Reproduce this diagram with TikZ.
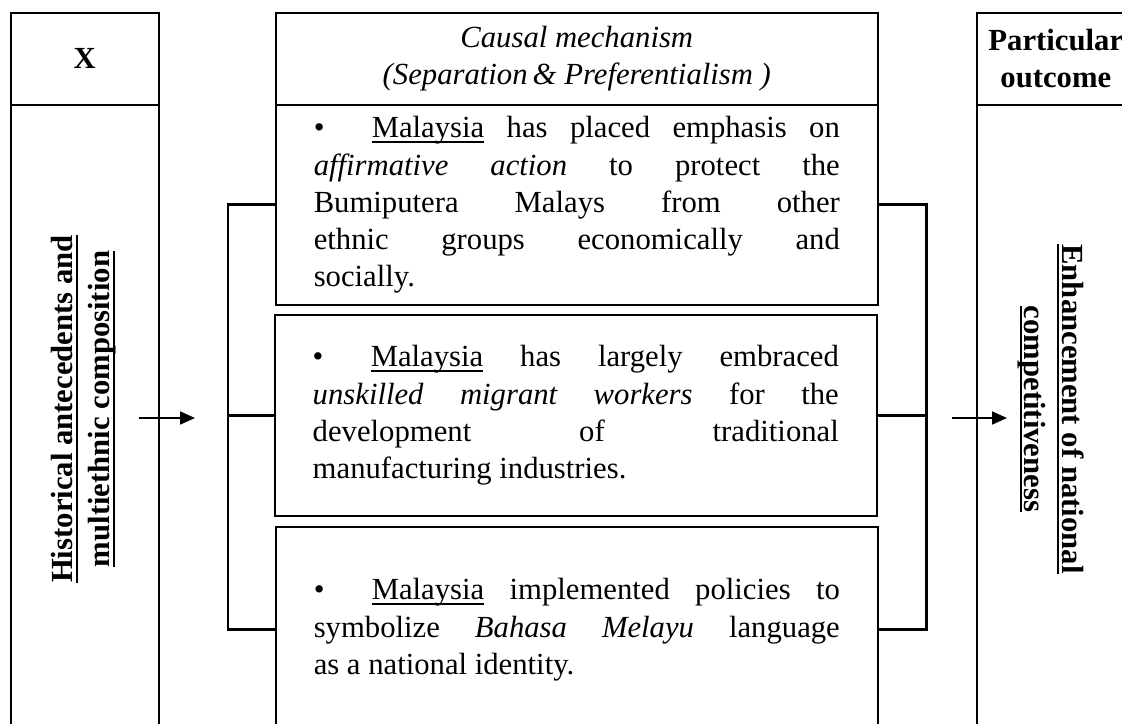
\documentclass[tikz,border=0pt]{standalone}
\usepackage{fontspec}
\setmainfont{Liberation Serif}
\usetikzlibrary{positioning, arrows.meta}

% underline at a fixed depth, like a word processor
\newcommand{\undl}[1]{\setbox0\hbox{#1}\rlap{\rule[-1.9pt]{\wd0}{0.6pt}}\box0\relax}
% one bullet item with a hanging indent
\newcommand{\bulletitem}[1]{\hangindent=22.7pt\hangafter=1\noindent\makebox[22.7pt][l]{\textbullet}#1}

\tikzset{
  cell/.style={draw, line width=0.6pt, inner sep=0pt, anchor=north west},
  itembox/.style={cell, text width=205.7pt, inner xsep=14.85pt, align=justify,
    font=\fontsize{12pt}{14.5pt}\selectfont},
  title/.style={inner sep=0pt, align=center, font=\fontsize{12pt}{14.5pt}\selectfont\bfseries},
  bracket/.style={line width=1pt},
  flow/.style={line width=0.8pt, -{Triangle[length=5.8pt, width=5pt]}}
}

\begin{document}
\begin{tikzpicture}[x=0.391pt, y=-0.391pt]
  \useasboundingbox (0,0) rectangle (1122,724);
  \clip (0,0) rectangle (1122,724);

  % left column
  \node[cell, title, minimum width=57.9pt, minimum height=36pt] (xhead) at (10,12) {X};
  \node[cell, minimum width=57.9pt, minimum height=248.7pt] (xbody) at (10,104) {};
  \node[title, rotate=90] (xlabel) at (84,409)
    {\undl{Historical antecedents and}\\\undl{multiethnic composition}};

  % middle column
  \node[cell, minimum width=235.4pt, minimum height=36pt, align=center,
    font=\fontsize{12pt}{14.5pt}\selectfont\itshape] (mhead) at (275,12)
    {Causal mechanism\\(Separation\,\& Preferentialism )};
  \node[itembox, minimum height=78.2pt] (m1) at (275,104)
    {\bulletitem{\undl{Malaysia} has placed emphasis on\linebreak
      \textit{affirmative action} to protect the\linebreak
      Bumiputera Malays from other\linebreak
      ethnic groups economically and\linebreak
      socially.}};
  \node[itembox, minimum height=78.6pt] (m2) at (274,314)
    {\bulletitem{\undl{Malaysia} has largely embraced\linebreak
      \textit{unskilled migrant workers} for the\linebreak
      development of traditional\linebreak
      manufacturing industries.}};
  \node[itembox, minimum height=80.5pt] (m3) at (275,526)
    {\rightskip=3.9pt\bulletitem{\undl{Malaysia} implemented policies to\linebreak
      symbolize \textit{Bahasa Melayu} language\linebreak
      as a national identity.}};

  % right column
  \node[cell, title, minimum width=61.8pt, minimum height=36pt] (yhead) at (976,12)
    {Particular\\outcome};
  \node[cell, minimum width=61.8pt, minimum height=248.7pt] (ybody) at (976,104) {};
  \node[title, rotate=-90] (ylabel) at (1051,409)
    {\undl{Enhancement of national}\\\undl{competitiveness}};

  % brackets
  \draw[bracket] (m1.west) -- ++(-47,0) |- (m3.west);
  \draw[bracket] (m2.west) -- ++(-46,0);
  \draw[bracket] (m1.east) -- ++(48,0) |- (m3.east);
  \draw[bracket] (m2.east) -- ++(48,0);

  % arrows
  \coordinate (xin) at (139,418);
  \coordinate (xout) at (195,418);
  \coordinate (yin) at (952,418);
  \coordinate (yout) at (1007,418);
  \draw[flow] (xin) -- (xout);
  \draw[flow] (yin) -- (yout);
\end{tikzpicture}
\end{document}
